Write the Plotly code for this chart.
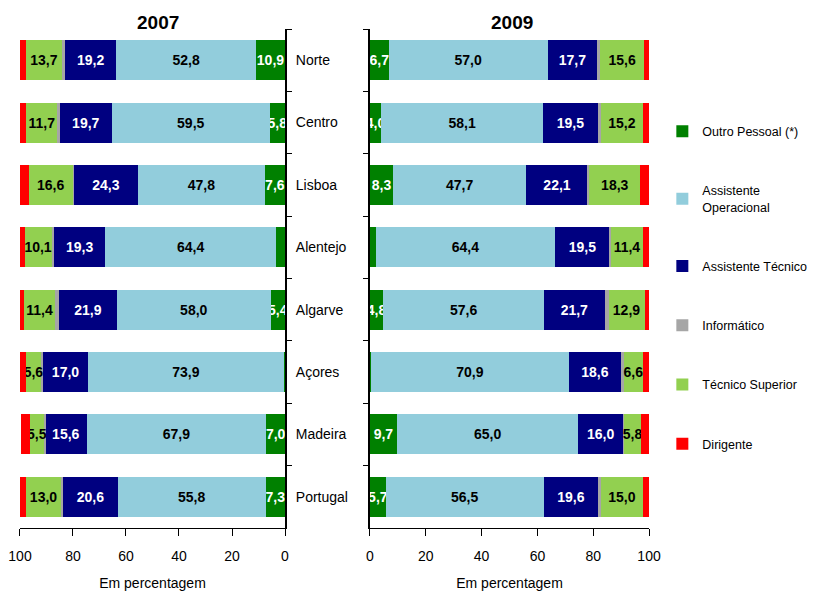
import plotly.graph_objects as go
from plotly.subplots import make_subplots

regioes = ["Norte", "Centro", "Lisboa", "Alentejo", "Algarve", "Açores", "Madeira", "Portugal"]

# 2007
outro_07 = [10.9, 5.8, 7.6, 3.4, 5.4, 0.4, 7.0, 7.3]
operac_07 = [52.8, 59.5, 47.8, 64.4, 58.0, 73.9, 67.9, 55.8]
tecnico_07 = [19.2, 19.7, 24.3, 19.3, 21.9, 17.0, 15.6, 20.6]
inform_07 = [1.2, 0.9, 0.4, 1.0, 1.6, 0.8, 0.4, 0.9]
superior_07 = [13.7, 11.7, 16.6, 10.1, 11.4, 5.6, 5.5, 13.0]
dirigente_07 = [2.2, 2.4, 3.3, 2.0, 1.7, 2.3, 3.4, 2.4]

# 2009
outro_09 = [6.7, 4.0, 8.3, 2.0, 4.8, 0.4, 9.7, 5.7]
operac_09 = [57.0, 58.1, 47.7, 64.4, 57.6, 70.9, 65.0, 56.5]
tecnico_09 = [17.7, 19.5, 22.1, 19.5, 21.7, 18.6, 16.0, 19.6]
inform_09 = [1.2, 1.1, 0.5, 0.5, 1.4, 1.2, 0.5, 1.0]
superior_09 = [15.6, 15.2, 18.3, 11.4, 12.9, 6.6, 5.8, 15.0]
dirigente_09 = [1.8, 2.1, 3.1, 2.2, 1.6, 2.3, 3.0, 2.2]

series = [
    ("Outro Pessoal (*)", outro_07, outro_09, "#008000", "white", True),
    ("Assistente<br>Operacional", operac_07, operac_09, "#92CDDC", "black", True),
    ("Assistente Técnico", tecnico_07, tecnico_09, "#000080", "white", True),
    ("Informático", inform_07, inform_09, "#A6A6A6", "black", False),
    ("Técnico Superior", superior_07, superior_09, "#92D050", "black", True),
    ("Dirigente", dirigente_07, dirigente_09, "#FF0000", "black", False),
]

FONT = "Liberation Sans, Arial"


def labels(vals, show):
    if not show:
        return ["" for v in vals]
    return [f"{v:.1f}".replace(".", ",") if v >= 3.9 else "" for v in vals]


fig = make_subplots(rows=1, cols=2)

for i, (nome, v07, v09, cor, txtcor, show) in enumerate(series):
    for col, vals in ((1, v07), (2, v09)):
        fig.add_trace(go.Bar(
            y=regioes, x=vals, orientation="h",
            name=nome, legendgroup=nome, showlegend=(col == 1),
            marker=dict(color=cor, line=dict(width=0)),
            text=labels(vals, show), textposition="inside", textangle=0,
            insidetextanchor="middle", constraintext="none",
            textfont=dict(color=txtcor, size=14, family=FONT, weight="bold"),
            hoverinfo="x+y+name",
        ), row=1, col=col)

# the page body adds 8px, so positions are shifted up/left by that much
fig.update_layout(
    barmode="stack", bargap=0.36,
    width=821, height=594,
    margin=dict(l=0, r=0, t=0, b=0, autoexpand=False),
    plot_bgcolor="white", paper_bgcolor="white",
    font=dict(family=FONT, size=14, color="black"),
    legend=dict(x=0.797, y=0.817, xanchor="left", yanchor="top",
                tracegroupgap=40, font=dict(size=12.5, family=FONT),
                itemwidth=30),
    annotations=[
        dict(text="<b>2007</b>", x=0.1547, y=0.976, xref="paper", yref="paper",
             yanchor="middle", showarrow=False, font=dict(size=19, family=FONT)),
        dict(text="<b>2009</b>", x=0.6139, y=0.976, xref="paper", yref="paper",
             yanchor="middle", showarrow=False, font=dict(size=19, family=FONT)),
    ],
)

xcommon = dict(
    tickvals=[0, 20, 40, 60, 80, 100], showline=True, linecolor="black",
    linewidth=1, ticks="outside", ticklen=7, tickcolor="black",
    showgrid=False, zeroline=False, ticklabelstandoff=8, automargin=False,
    title=dict(text="Em percentagem", standoff=15, font=dict(size=14)),
    tickfont=dict(size=14),
)
fig.update_xaxes(range=[100, 0], domain=[0.0146, 0.3374], row=1, col=1, **xcommon)
fig.update_xaxes(range=[0, 100], domain=[0.4409, 0.7808], row=1, col=2, **xcommon)

fig.update_yaxes(autorange="reversed", domain=[0.1246, 0.9646], showgrid=False,
                 showline=True, linecolor="black", linewidth=2, automargin=False,
                 ticks="outside", ticklen=5, tickson="boundaries", tickcolor="black")
fig.update_yaxes(side="right", showticklabels=True, ticklabelstandoff=6,
                 tickfont=dict(size=14), row=1, col=1)
fig.update_yaxes(showticklabels=False, row=1, col=2)

fig.write_html("out.html")
